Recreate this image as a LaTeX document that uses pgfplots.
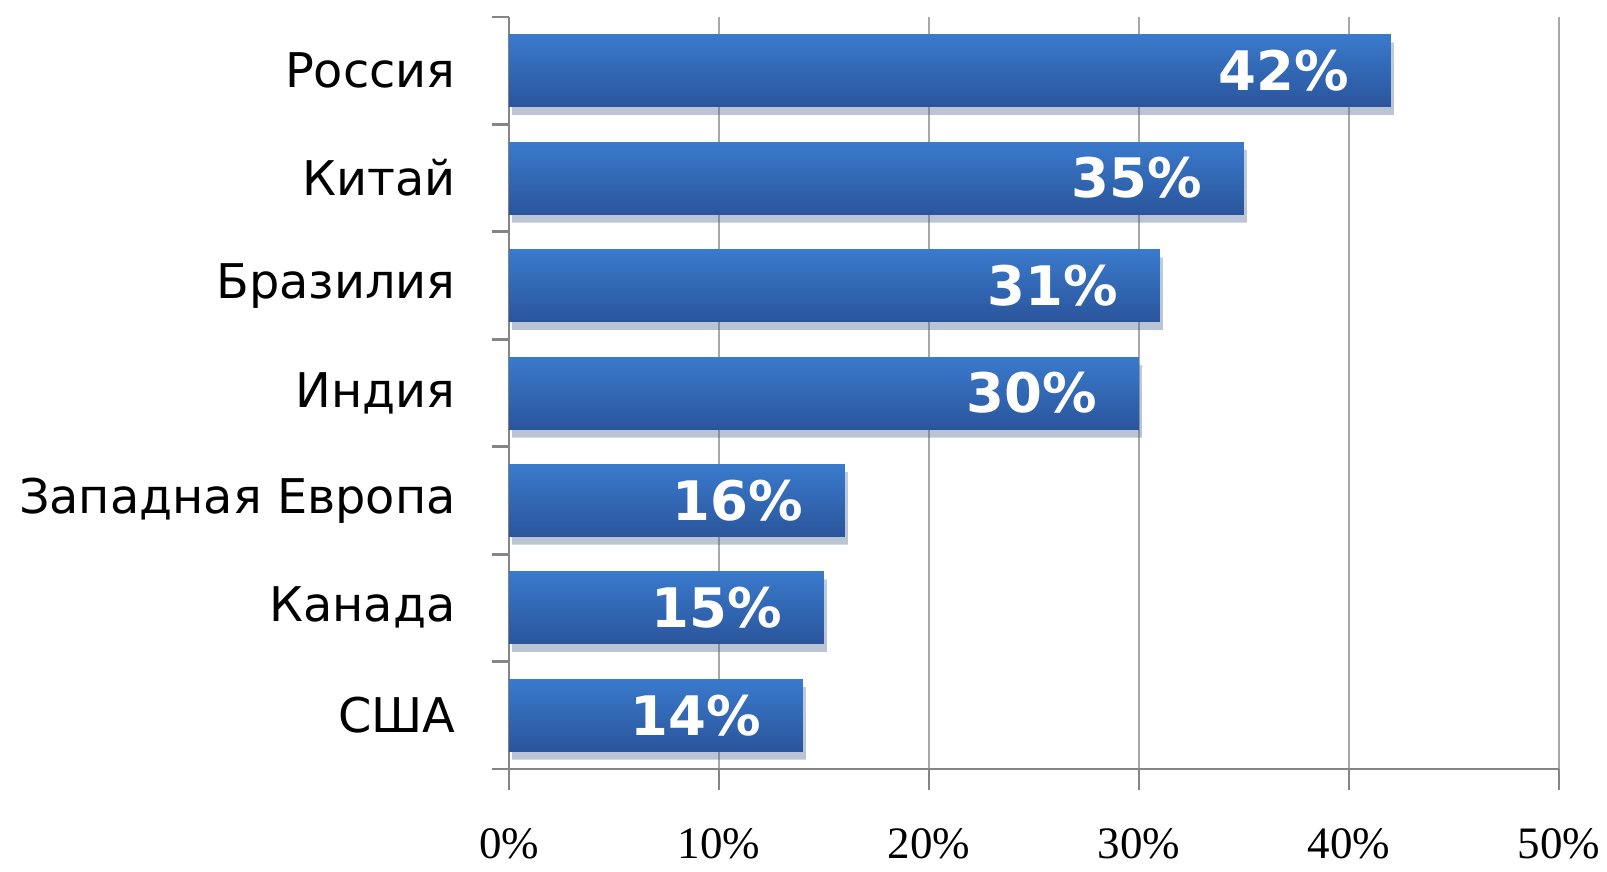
\documentclass[border=0pt]{standalone}
\usepackage{pgfplots}
\pgfplotsset{compat=1.18}
\usepackage{fontspec}
\setmainfont{Liberation Serif}
\newfontfamily\catfont{DejaVu Sans}
\usetikzlibrary{shadows}

\definecolor{barTop}{HTML}{3A7ACC}
\definecolor{barMid}{HTML}{3168B8}
\definecolor{barBot}{HTML}{2A559C}
\definecolor{gridgray}{HTML}{A8A8A8}
\definecolor{axisgray}{HTML}{858585}

\tikzset{
  bluebar/.style={draw=none, top color=barTop, middle color=barMid,
    bottom color=barBot,
    drop shadow={opacity=0.22, shadow xshift=0.3mm, shadow yshift=-0.8mm}}
}

\begin{document}
\begin{tikzpicture}
  % page size = reference proportions (1 px = 0.1 mm)
  \path[use as bounding box] (-50.9mm,-10.2mm) rectangle (109.8mm,76.9mm);
  \begin{axis}[
    scale only axis,
    width=105mm, height=75.2mm,
    xmin=0, xmax=50,
    ymin=-0.5, ymax=6.5,
    axis x line*=bottom,
    axis y line*=left,
    axis line style={axisgray, line width=0.8pt, -},
    xtick={0,10,...,50},
    xticklabel={\pgfmathprintnumber{\tick}\%},
    xticklabel style={font=\fontsize{12.8}{14}\selectfont},
    xticklabel shift=2.6mm,
    ytick={0,...,6},
    yticklabels={США,Канада,Западная Европа,Индия,Бразилия,Китай,Россия},
    yticklabel style={font=\catfont\fontsize{13.6}{15}\selectfont},
    yticklabel shift=2.0mm,
    major y tick style={draw=none},
    minor ytick={-0.5,0.5,...,6.5},
    minor tick length=1.7mm,
    major tick length=2.1mm,
    tick align=outside,
    tick style={axisgray, line width=0.8pt},
    xmajorgrids,
    major grid style={gridgray, line width=0.8pt},
    /pgf/number format/assume math mode=true,
    xbar,
    bar width=7.2mm,
    bar shift=0pt,
    nodes near coords={\pgfmathprintnumber{\pgfplotspointmeta}\%},
    nodes near coords align={anchor=east},
    every node near coord/.append style={
      white, xshift=-3.0mm,
      font=\catfont\bfseries\fontsize{15.5}{17}\selectfont},
  ]
    % one plot per bar so every bar gets its own gradient
    \addplot[bluebar] coordinates {(42,6)};
    \addplot[bluebar] coordinates {(35,5)};
    \addplot[bluebar] coordinates {(31,4)};
    \addplot[bluebar] coordinates {(30,3)};
    \addplot[bluebar] coordinates {(16,2)};
    \addplot[bluebar] coordinates {(15,1)};
    \addplot[bluebar] coordinates {(14,0)};
  \end{axis}
\end{tikzpicture}
\end{document}
